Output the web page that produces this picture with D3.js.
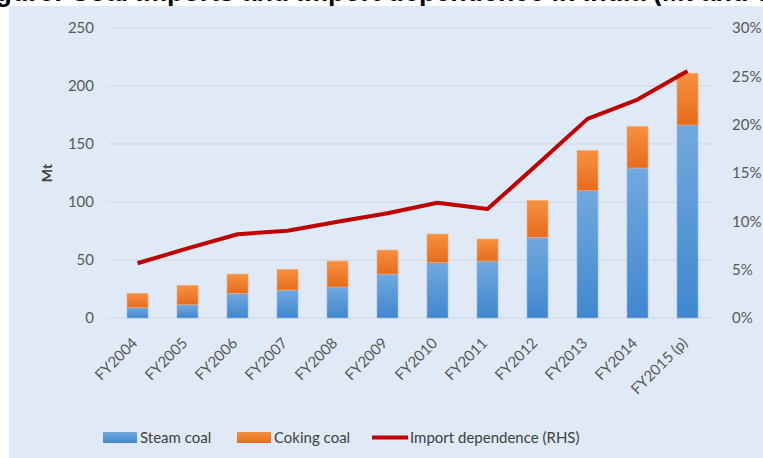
<!DOCTYPE html>
<meta charset="utf-8">
<script src="https://d3js.org/d3.v7.min.js"></script>
<style>
body { margin: 0; background: #fff; }
svg { display: block; }
.axis text { font-family: Lato, "Open Sans", sans-serif; font-size: 15px; fill: #595959; }
.axis path, .axis line { display: none; }
.grid line { stroke: #cfd6df; stroke-width: 1px; }
.legend text { font-family: Lato, "Open Sans", sans-serif; font-size: 15px; fill: #404040; }
</style>
<body></body>
<script>
const years = ["FY2004","FY2005","FY2006","FY2007","FY2008","FY2009","FY2010","FY2011","FY2012","FY2013","FY2014","FY2015 (p)"];
const steamCoal = [9, 11.5, 21.3, 24.1, 26.7, 37.9, 47.7, 49.1, 69.6, 109.8, 129.3, 166.4];
const cokingCoal = [12.3, 16.7, 16.6, 17.9, 22.4, 20.7, 24.7, 19, 31.8, 34.7, 35.9, 44.6];
const importDep = [5.66, 7.2, 8.66, 9.03, 9.96, 10.83, 11.93, 11.27, 15.9, 20.6, 22.6, 25.55];
const leftTicks = [0, 50, 100, 150, 200, 250];
const rightTicks = [0, 5, 10, 15, 20, 25, 30];
const titleText = "Figure: Coal Imports and Import dependence in India (Mt and %)";

const width = 763, height = 458;
const plot = {left: 112.5, right: 712.5, top: 28, bottom: 318};

const svg = d3.select("body").append("svg")
  .attr("width", width)
  .attr("height", height);

const defs = svg.append("defs");
const blueGrad = defs.append("linearGradient").attr("id", "blueGrad")
  .attr("x1", 0).attr("y1", 0).attr("x2", 0).attr("y2", 1);
blueGrad.append("stop").attr("offset", "0%").attr("stop-color", "#72a9de");
blueGrad.append("stop").attr("offset", "100%").attr("stop-color", "#4087cf");
const orangeGrad = defs.append("linearGradient").attr("id", "orangeGrad")
  .attr("x1", 0).attr("y1", 0).attr("x2", 0).attr("y2", 1);
orangeGrad.append("stop").attr("offset", "0%").attr("stop-color", "#f7913f");
orangeGrad.append("stop").attr("offset", "100%").attr("stop-color", "#e66c1c");

// title, mostly cut off above the picture (only its bottom edge shows)
const title = svg.append("text")
  .attr("x", 0)
  .attr("y", 0.5)
  .style("font-family", "Liberation Sans, Arial, sans-serif")
  .style("font-weight", "bold")
  .style("font-size", "22px")
  .text(titleText);
// line the title up with the reference: "p" of Imports at 167, "(" at 653
const iP = titleText.indexOf("Imports") + 2;
const iB = titleText.indexOf("(");
let node = title.node();
let p1 = node.getStartPositionOfChar(iP).x, p2 = node.getStartPositionOfChar(iB).x;
const fs = 22 * (653 - 167) / (p2 - p1);
title.style("font-size", fs + "px");
p1 = node.getStartPositionOfChar(iP).x;
title.attr("x", 167 - p1);

// background panel
svg.append("rect")
  .attr("x", 9).attr("y", 6)
  .attr("width", width - 9).attr("height", height - 6)
  .attr("fill", "#dfeaf6");

const x = d3.scaleBand()
  .domain(years)
  .range([plot.left, plot.right])
  .paddingInner(0.58)
  .paddingOuter(0.29);

const y = d3.scaleLinear().domain([0, 250]).range([plot.bottom, plot.top]);
const y2 = d3.scaleLinear().domain([0, 30]).range([plot.bottom, plot.top]);

// gridlines
svg.append("g").attr("class", "grid")
  .selectAll("line").data(leftTicks).join("line")
  .attr("x1", 110).attr("x2", 712)
  .attr("y1", d => y(d)).attr("y2", d => y(d));

// axes
svg.append("g").attr("class", "axis")
  .attr("transform", "translate(98,0)")
  .call(d3.axisLeft(y).tickValues(leftTicks).tickSize(0).tickPadding(4));

svg.append("g").attr("class", "axis")
  .attr("transform", "translate(729,0)")
  .call(d3.axisRight(y2).tickValues(rightTicks).tickSize(0).tickPadding(3).tickFormat(d => d + "%"));

const xAxis = svg.append("g").attr("class", "axis")
  .attr("transform", "translate(0," + plot.bottom + ")")
  .call(d3.axisBottom(x).tickSize(0).tickPadding(0));
xAxis.selectAll("text")
  .attr("text-anchor", "end")
  .attr("dy", 0)
  .attr("transform", "translate(1,26) rotate(-45)");

// y label
svg.append("text")
  .attr("transform", "translate(52,173) rotate(-90)")
  .attr("text-anchor", "middle")
  .style("font-family", "Lato, sans-serif")
  .style("font-weight", "bold")
  .style("font-size", "14px")
  .style("fill", "#404040")
  .text("Mt");

// stacked bars
const data = years.map((yr, i) => ({year: yr, steam: steamCoal[i], coking: cokingCoal[i], dep: importDep[i]}));

svg.append("g").selectAll("rect").data(data).join("rect")
  .attr("x", d => x(d.year))
  .attr("width", x.bandwidth())
  .attr("y", d => y(d.steam))
  .attr("height", d => y(0) - y(d.steam))
  .attr("fill", "url(#blueGrad)")
  .attr("stroke", "#8fbbe6")
  .attr("stroke-width", 0.6);

svg.append("g").selectAll("rect").data(data).join("rect")
  .attr("x", d => x(d.year))
  .attr("width", x.bandwidth())
  .attr("y", d => y(d.steam + d.coking))
  .attr("height", d => y(d.steam) - y(d.steam + d.coking))
  .attr("fill", "url(#orangeGrad)")
  .attr("stroke", "#f6ab74")
  .attr("stroke-width", 0.6);

// import dependence line
const line = d3.line()
  .x(d => x(d.year) + x.bandwidth() / 2)
  .y(d => y2(d.dep));

svg.append("path")
  .attr("d", line(data))
  .attr("fill", "none")
  .attr("stroke", "#c00000")
  .attr("stroke-width", 4)
  .attr("stroke-linejoin", "round");

// legend
const legend = svg.append("g").attr("class", "legend");
legend.append("rect").attr("x", 103).attr("y", 432).attr("width", 34).attr("height", 11).attr("fill", "url(#blueGrad)");
legend.append("text").attr("x", 140).attr("y", 443).text("Steam coal");
legend.append("rect").attr("x", 237).attr("y", 432).attr("width", 34).attr("height", 11).attr("fill", "url(#orangeGrad)");
legend.append("text").attr("x", 274).attr("y", 443).text("Coking coal");
legend.append("line").attr("x1", 372).attr("x2", 408).attr("y1", 437.5).attr("y2", 437.5)
  .attr("stroke", "#c00000").attr("stroke-width", 4);
legend.append("text").attr("x", 410).attr("y", 443).text("Import dependence (RHS)");
</script>
